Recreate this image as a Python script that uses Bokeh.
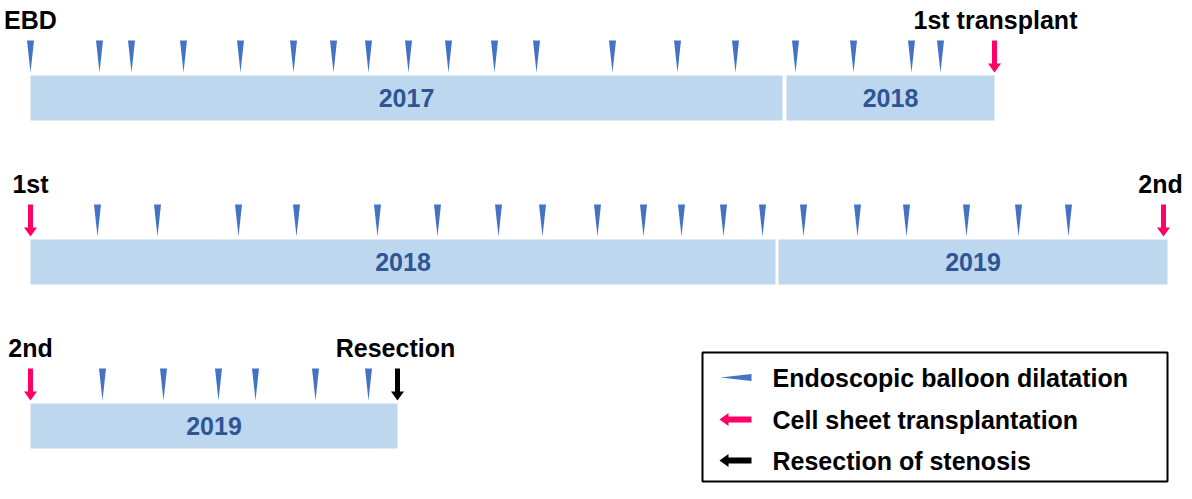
from bokeh.plotting import figure
from bokeh.models import Range1d, ColumnDataSource
from bokeh.core.properties import value
from bokeh.embed import file_html
from bokeh.resources import INLINE

# ---------------- data (timeline positions along each row) ----------------
ebd_row1 = [30, 99, 131, 183, 240, 293, 333, 368, 408, 448, 494, 536, 612, 677, 735, 795, 853, 911, 940]
ebd_row2 = [97, 157, 238, 296, 377, 437, 498, 542, 597, 643, 681, 723, 762, 803, 857, 906, 966, 1018, 1068]
ebd_row3 = [102, 163, 218, 255, 315, 368]

seg_year = ["2017", "2018", "2018", "2019", "2019"]
seg_row = [0, 0, 1, 1, 2]
seg_start = [30, 786, 30, 778, 30]
seg_end = [782, 994, 775, 1167, 397]

transplant_pos = [994, 30, 1163, 30]
transplant_row = [0, 1, 1, 2]
resection_pos = [397]
resection_row = [2]

label_text = ["EBD", "1st transplant", "1st", "2nd", "2nd", "Resection"]
label_pos = [30, 995, 30, 1163, 30, 395]
label_row = [0, 0, 1, 1, 2, 2]
label_shift = [0, 0, 0, -3, 0, 0]

legend_text = ["Endoscopic balloon dilatation", "Cell sheet transplantation", "Resection of stenosis"]

# ---------------- style ----------------
BAR = "#BDD7EE"
YEAR = "#2F5597"
TRI = "#4472C4"
PINK = "#FF0066"
FONT = value("Liberation Sans")

ROW_TOP0, ROW_STEP, BAR_H = 75, 164, 45


def bar_top(r):
    return ROW_TOP0 + ROW_STEP * r


p = figure(width=1184, height=483, x_range=Range1d(0, 1184), y_range=Range1d(483, 0),
           output_backend="svg", toolbar_location=None, min_border=0)
p.axis.visible = False
p.grid.visible = False
p.outline_line_color = None

# year bars
seg_src = ColumnDataSource(dict(
    left=seg_start, right=seg_end,
    top=[bar_top(r) for r in seg_row],
    bottom=[bar_top(r) + BAR_H for r in seg_row],
    xc=[(a + b) / 2 for a, b in zip(seg_start, seg_end)],
    yc=[bar_top(r) + BAR_H / 2 for r in seg_row],
    year=seg_year))
p.quad(left="left", right="right", top="top", bottom="bottom", source=seg_src,
       fill_color=BAR, line_color=None)
p.text(x="xc", y="yc", text="year", source=seg_src, text_font=FONT, text_font_style="bold",
       text_font_size="25px", text_color=YEAR, text_align="center", text_baseline="middle")

# EBD triangles
txs, tys = [], []
for r, arr in enumerate([ebd_row1, ebd_row2, ebd_row3]):
    t = bar_top(r)
    for x in arr:
        txs.append([x - 3.5, x + 3.5, x])
        tys.append([t - 35, t - 35, t - 3])
p.patches(txs, tys, fill_color=TRI, line_color=None)


def down_arrow(x, r):
    t = bar_top(r)
    y0, y1 = t - 35, t - 3
    xs = [x - 2.5, x + 2.5, x + 2.5, x + 6.5, x, x - 6.5, x - 2.5]
    ys = [y0, y0, y1 - 9, y1 - 9, y1, y1 - 9, y1 - 9]
    return xs, ys


axs, ays = zip(*[down_arrow(x, r) for x, r in zip(transplant_pos, transplant_row)])
p.patches(list(axs), list(ays), fill_color=PINK, line_color=None)
bxs, bys = zip(*[down_arrow(x, r) for x, r in zip(resection_pos, resection_row)])
p.patches(list(bxs), list(bys), fill_color="black", line_color=None)

# row labels
lab_src = ColumnDataSource(dict(
    x=[x + s for x, s in zip(label_pos, label_shift)],
    y=[bar_top(r) - 56 for r in label_row],
    text=label_text))
p.text(x="x", y="y", text="text", source=lab_src, text_font=FONT, text_font_style="bold",
       text_font_size="25px", text_color="black", text_align="center", text_baseline="alphabetic")

# legend
p.quad(left=[702], right=[1167], top=[352], bottom=[481], fill_alpha=0,
       line_color="black", line_width=2)
leg_y = [377, 419, 460]
p.patch([720, 751, 751], [leg_y[0], leg_y[0] - 3.5, leg_y[0] + 3.5], fill_color=TRI, line_color=None)


def left_arrow(cy):
    xs = [751, 751, 728, 728, 719, 728, 728]
    ys = [cy - 3, cy + 3, cy + 3, cy + 6.5, cy, cy - 6.5, cy - 3]
    return xs, ys


lx, ly = left_arrow(leg_y[1])
p.patch(lx, ly, fill_color=PINK, line_color=None)
lx, ly = left_arrow(leg_y[2])
p.patch(lx, ly, fill_color="black", line_color=None)
p.text(x=[772] * 3, y=leg_y, text=legend_text, text_font=FONT,
       text_font_style="bold", text_font_size="25px", text_color="black",
       text_align="left", text_baseline="middle")

open("out.html", "w").write(file_html(p, INLINE))
